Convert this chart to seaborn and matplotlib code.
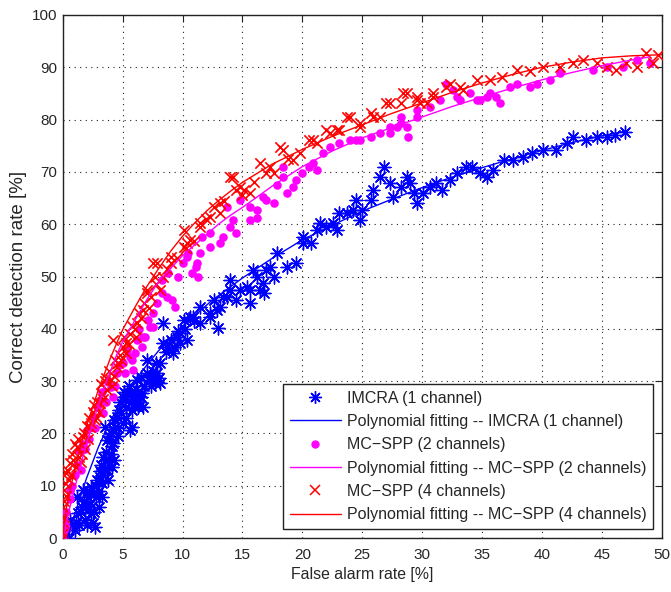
import numpy as np
import pandas as pd
import matplotlib
matplotlib.use("Agg")
import matplotlib.pyplot as plt
import seaborn as sns
from matplotlib.lines import Line2D

# ---------------- data ----------------
imcra_x = [0.5, 0.6, 1.0, 1.2, 1.3, 1.6, 1.7, 1.9, 2.1, 2.2, 2.4, 2.4, 2.5, 2.7, 2.8, 2.9, 3.0, 3.1, 3.2, 3.3,
           3.4, 3.5, 3.5, 3.7, 3.8, 3.8, 4.0, 4.1, 4.1, 4.2, 4.3, 4.4, 4.5, 4.6, 4.9, 5.0, 5.0, 5.2, 5.3, 5.5,
           5.6, 5.6, 5.8, 5.8, 5.9, 6.0, 6.2, 6.3, 6.5, 6.5, 6.6, 6.7, 7.0, 7.2, 7.3, 7.5, 7.7, 7.9, 8.1, 8.1,
           8.4, 8.4, 8.6, 8.7, 9.0, 9.2, 9.5, 9.8, 9.8, 10.1, 10.4, 10.6, 10.9, 11.5, 11.5, 12.3, 12.3, 12.6, 12.9, 13.0,
           13.1, 13.4, 13.7, 14.0, 14.0, 14.5, 14.8, 15.4, 15.6, 15.6, 15.9, 16.2, 16.5, 16.7, 16.8, 17.0, 17.3, 17.6, 17.9, 18.7,
           19.5, 20.1, 20.1, 20.7, 21.2, 21.5, 22.0, 22.6, 22.9, 23.1, 23.7, 24.2, 24.5, 24.8, 25.0, 25.7, 25.9, 26.5, 26.8, 27.3,
           27.6, 28.2, 28.7, 29.0, 29.3, 29.6, 30.1, 30.7, 31.2, 31.7, 32.3, 32.9, 33.7, 34.2, 34.8, 35.4, 35.9, 36.8, 37.6, 38.4,
           39.2, 40.1, 41.2, 42.1, 42.6, 43.7, 44.6, 45.4, 46.1, 46.9,
           0.8, 1.1, 1.4, 1.5, 1.8, 2.0, 2.2, 2.3, 2.6, 2.6, 2.8, 3.0, 3.1, 3.3, 3.4, 3.6, 3.7, 3.9, 4.0, 4.2,
           4.3, 4.6, 4.7, 4.8, 5.1, 5.3, 5.4, 5.7, 6.1, 6.4, 6.8, 7.0, 7.4, 7.6, 8.0, 7.8, 9.3, 9.6, 10.2, 11.0]
imcra_y = [0.0, 3.4, 1.5, 7.9, 4.8, 6.0, 9.2, 3.4, 7.9, 5.5, 4.8, 9.8, 2.9, 2.1, 7.9, 11.1, 6.0, 11.7, 14.0, 7.9,
           15.5, 13.0, 21.2, 18.7, 14.9, 11.1, 20.0, 17.5, 13.6, 18.1, 15.0, 21.2, 23.1, 19.5, 23.9, 27.0, 22.0, 26.4, 25.1, 29.0,
           27.7, 20.6, 24.5, 21.2, 26.4, 27.0, 30.2, 25.0, 27.0, 30.8, 27.7, 25.1, 34.0, 30.2, 30.8, 32.0, 29.6, 31.5, 29.6, 33.5,
           41.1, 37.3, 35.5, 36.5, 37.9, 35.4, 38.5, 37.3, 39.2, 41.7, 37.9, 42.3, 42.3, 44.2, 41.1, 42.3, 43.0, 45.5, 43.6, 40.2,
           44.2, 46.1, 46.1, 47.4, 49.3, 45.5, 47.4, 48.0, 44.9, 47.4, 51.2, 49.9, 47.4, 48.8, 46.8, 51.2, 51.8, 49.9, 54.5, 51.8,
           52.6, 57.6, 56.4, 56.4, 58.9, 60.2, 59.5, 60.2, 58.9, 62.1, 62.1, 62.7, 64.6, 60.8, 62.7, 64.6, 66.5, 69.0, 71.0, 67.9,
           65.2, 67.1, 69.0, 67.9, 66.0, 64.0, 66.0, 67.1, 67.9, 66.5, 68.5, 69.8, 71.0, 71.0, 69.8, 69.0, 70.4, 72.3, 72.3, 72.9,
           73.6, 74.2, 74.2, 75.5, 76.7, 76.1, 76.7, 76.7, 77.1, 77.6,
           2.0, 3.0, 2.5, 5.0, 7.0, 2.5, 9.0, 6.5, 5.0, 8.5, 10.0, 9.0, 12.8, 10.5, 12.0, 16.5, 13.0, 19.5, 16.0, 20.8,
           22.5, 21.0, 24.5, 26.0, 28.0, 23.0, 27.5, 26.0, 28.5, 26.0, 29.0, 31.5, 29.0, 31.0, 30.5, 33.5, 36.5, 39.5, 40.0, 41.5]

spp2_x = [0.1, 0.2, 0.3, 0.6, 0.6, 1.0, 1.4, 1.7, 2.0, 2.5, 3.1, 3.4, 4.0, 4.2, 4.5, 5.0, 5.6, 5.8, 5.9, 6.0,
          6.2, 6.7, 6.9, 7.1, 7.3, 7.5, 7.5, 7.9, 8.3, 8.3, 8.7, 8.8, 9.1, 9.4, 9.6, 10.0, 10.4, 10.5, 10.8, 11.1,
          11.2, 11.3, 11.5, 11.6, 12.3, 12.3, 13.1, 13.4, 13.7, 14.0, 14.2, 14.5, 14.8, 15.6, 15.6, 16.2, 16.2, 16.7, 17.0, 17.6,
          17.9, 18.4, 18.4, 18.7, 19.2, 19.5, 20.0, 20.6, 20.9, 21.2, 21.7, 22.3, 23.1, 24.0, 24.5, 24.8, 25.7, 26.5, 27.3, 27.3,
          27.9, 28.2, 28.2, 28.7, 28.8, 29.6, 29.6, 30.7, 31.5, 32.0, 32.6, 32.9, 33.2, 34.0, 34.6, 34.8, 35.4, 35.7, 36.2, 36.5,
          37.3, 37.9, 39.0, 39.6, 40.7, 41.5, 44.3, 45.4, 46.8, 47.9, 49.0,
          0.4, 0.8, 1.2, 1.5, 1.9, 2.2, 2.7, 2.9, 3.3, 3.6, 3.8, 4.4, 4.7, 5.2, 5.4, 6.4, 6.6]
spp2_y = [0.5, 3.0, 5.0, 7.5, 9.2, 12.0, 16.8, 18.0, 20.6, 23.1, 26.4, 23.9, 28.9, 27.0, 31.5, 33.5, 34.6, 34.0, 32.1, 35.4,
          37.9, 38.4, 38.4, 41.7, 40.3, 43.0, 40.3, 44.9, 46.8, 49.3, 46.0, 50.7, 45.5, 44.2, 49.9, 52.6, 53.7, 54.5, 50.7, 51.8,
          52.6, 49.9, 54.5, 57.6, 55.6, 58.3, 56.4, 57.6, 63.3, 59.5, 60.8, 58.3, 64.6, 60.8, 63.3, 61.2, 62.7, 65.2, 64.6, 64.0,
          67.5, 69.0, 71.0, 66.0, 67.1, 68.5, 69.8, 71.0, 71.7, 70.4, 73.6, 74.8, 75.5, 76.1, 76.1, 76.1, 76.7, 77.4, 77.4, 78.6,
          78.6, 79.3, 80.5, 78.6, 76.7, 80.5, 81.8, 82.4, 83.7, 86.9, 85.7, 84.3, 83.7, 85.0, 83.7, 83.7, 84.3, 85.0, 84.3, 83.2,
          86.3, 86.9, 86.3, 86.9, 87.6, 88.9, 89.5, 90.1, 90.1, 91.4, 90.8,
          2.0, 10.0, 14.0, 13.0, 17.0, 19.0, 21.0, 25.0, 28.0, 26.0, 30.0, 29.0, 33.0, 31.5, 36.0, 40.0, 36.5]

spp4_x = [0.0, 0.05, 0.05, 0.1, 0.2, 0.3, 0.5, 0.6, 0.8, 1.0, 1.2, 1.4, 1.5, 1.7, 1.9, 2.0, 2.3, 2.5, 2.8, 2.9,
          3.1, 3.3, 3.5, 3.7, 4.0, 4.2, 4.3, 4.5, 4.8, 5.0, 5.3, 5.3, 5.6, 6.0, 6.2, 6.5, 6.7, 7.0, 7.0, 7.5,
          7.8, 7.9, 8.1, 8.4, 8.7, 9.0, 9.0, 9.5, 10.1, 10.1, 10.3, 10.4, 10.6, 11.0, 11.5, 11.5, 12.0, 12.3, 12.6, 13.1,
          13.1, 13.5, 14.0, 14.2, 14.5, 14.8, 15.0, 15.1, 15.6, 16.0, 16.5, 17.0, 17.3, 17.6, 18.1, 18.4, 18.8, 19.2, 19.8, 20.6,
          20.9, 21.2, 22.0, 22.3, 22.9, 23.1, 23.7, 24.0, 24.8, 24.8, 25.7, 25.9, 26.5, 27.0, 27.3, 28.2, 28.4, 28.7, 29.6, 29.6,
          29.8, 30.4, 30.9, 30.9, 32.0, 32.3, 33.2, 33.4, 34.6, 35.7, 36.7, 37.9, 39.0, 40.1, 41.5, 42.6, 43.4, 44.6, 45.4, 46.2,
          47.0, 47.9, 48.7, 49.3, 49.7,
          0.05, 0.1, 0.15, 0.3, 0.4, 0.7, 0.9, 1.1, 1.3, 1.6, 1.8, 2.1, 2.2, 2.4, 2.6, 2.7, 3.0, 3.2, 3.4, 3.6,
          3.9, 4.1, 4.4, 4.6, 4.9, 5.1, 5.5, 5.8, 6.1, 6.4, 6.8, 7.2, 7.4, 7.7]
spp4_y = [0.0, 3.0, 6.0, 9.2, 10.5, 12.4, 11.0, 14.3, 16.0, 18.0, 17.4, 15.5, 14.5, 19.3, 17.0, 21.5, 21.2, 24.0, 23.1, 26.0,
          25.8, 27.5, 30.0, 28.3, 30.2, 37.9, 31.0, 32.7, 35.0, 36.5, 37.3, 35.4, 39.0, 40.0, 41.1, 42.0, 43.6, 46.8, 47.4, 52.5,
          48.5, 52.6, 47.4, 50.0, 51.5, 52.6, 53.7, 53.5, 58.9, 55.6, 55.5, 56.4, 57.0, 56.8, 60.2, 59.5, 61.0, 61.4, 63.3, 62.1,
          64.0, 64.5, 69.0, 69.0, 66.5, 67.2, 65.5, 66.5, 65.9, 68.0, 71.7, 69.8, 71.0, 69.8, 74.8, 74.2, 72.5, 72.3, 73.6, 76.1,
          76.1, 75.5, 78.0, 77.4, 78.0, 78.0, 80.5, 80.5, 78.6, 79.3, 81.2, 80.5, 80.5, 83.2, 83.2, 83.2, 85.0, 85.0, 84.3, 83.7,
          83.2, 83.2, 85.0, 84.4, 86.3, 86.9, 86.3, 85.7, 87.6, 87.6, 88.2, 89.5, 89.2, 90.1, 90.1, 90.8, 91.4, 90.8, 90.1, 89.5,
          90.8, 90.1, 92.7, 90.8, 92.4,
          1.0, 4.0, 7.0, 8.0, 13.0, 12.0, 15.0, 13.5, 19.0, 16.0, 20.0, 19.0, 23.0, 22.0, 25.5, 22.5, 24.0, 29.5, 26.5, 30.5,
          32.0, 29.0, 34.0, 33.5, 34.0, 38.5, 37.0, 40.5, 38.5, 43.0, 45.0, 44.0, 46.0, 50.0]

# polynomial fitting curves
fit1_x = [0.4, 1, 1.5, 2, 2.5, 3, 3.5, 4, 5, 6, 7, 8, 9, 10, 12.5, 15, 17.5, 20, 22.5, 25, 27.5, 30, 32.5, 35,
          37.5, 40, 42.5, 45, 47]
fit1_y = [0, 4.5, 8, 11.5, 14.5, 17.5, 20, 22.5, 26.5, 30, 33, 35.8, 38.3, 40.5, 45.5, 49.7, 53.5, 57, 59.8, 62.5,
          64.8, 67, 69, 70.8, 72.5, 74.1, 75.6, 76.9, 77.8]
fit2_x = [0, 0.5, 1, 1.5, 2, 2.5, 3, 3.5, 4, 4.5, 5, 6, 7, 8, 9, 10, 11, 12, 13, 14, 15, 17.5, 20, 22.5, 25,
          27.5, 30, 32.5, 35, 37.5, 40, 42.5, 45, 47.5, 49]
fit2_y = [0, 5, 9.5, 14, 18, 22, 25.5, 29, 32, 35, 37.5, 41.5, 45.5, 49, 51.5, 54, 56, 58, 60, 61.7, 63.2, 67.3, 71,
          74, 76.5, 78.5, 80.5, 82.5, 84.3, 86, 87.6, 89, 90.3, 91.4, 92]
fit4_x = [0, 0.25, 0.5, 1, 1.5, 2, 2.5, 3, 3.5, 4, 4.5, 5, 6, 7, 8, 9, 10, 11, 12, 13, 14, 15, 17.5, 20, 22.5,
          25, 27.5, 30, 32.5, 35, 37.5, 40, 42.5, 45, 47.5, 50]
fit4_y = [0, 5, 8, 13, 17.5, 21.5, 25, 28.5, 31.5, 34.5, 37.2, 39.8, 44, 48, 51.5, 54.8, 57.7, 60.2, 62.5, 64.5,
          66.3, 68, 71.5, 74.3, 76.8, 79, 81.2, 83.2, 85.2, 87, 88.6, 90, 91, 91.8, 92.2, 92.4]

labels = ["IMCRA (1 channel)",
          "Polynomial fitting -- IMCRA (1 channel)",
          "MC\u2212SPP (2 channels)",
          "Polynomial fitting -- MC\u2212SPP (2 channels)",
          "MC\u2212SPP (4 channels)",
          "Polynomial fitting -- MC\u2212SPP (4 channels)"]
x_ticks = [0, 5, 10, 15, 20, 25, 30, 35, 40, 45, 50]
y_ticks = [0, 10, 20, 30, 40, 50, 60, 70, 80, 90, 100]

BLUE, MAG, RED = "#0000FF", "#FF00FF", "#FF0000"

# ---------------- plot ----------------
sns.set_style("white")
plt.rcParams["font.family"] = ["Liberation Sans", "DejaVu Sans"]

fig = plt.figure(figsize=(6.71, 5.92), dpi=100)
ax = fig.add_axes([62.7 / 671, 54 / 592, 599 / 671, 523 / 592])

asterisk = (8, 2, 0)

d1 = pd.DataFrame({"x": imcra_x, "y": imcra_y})
d2 = pd.DataFrame({"x": spp2_x, "y": spp2_y})
d4 = pd.DataFrame({"x": spp4_x, "y": spp4_y})
f1 = pd.DataFrame({"x": fit1_x, "y": fit1_y})
f2 = pd.DataFrame({"x": fit2_x, "y": fit2_y})
f4 = pd.DataFrame({"x": fit4_x, "y": fit4_y})

sns.scatterplot(data=d1, x="x", y="y", ax=ax, marker=asterisk, s=85,
                color=BLUE, edgecolor=BLUE, linewidth=1.0, zorder=3)
sns.lineplot(data=f1, x="x", y="y", ax=ax, color=BLUE, lw=1.0, sort=False,
             estimator=None, zorder=4)
sns.scatterplot(data=d2, x="x", y="y", ax=ax, marker="o", s=38,
                color=MAG, edgecolor=MAG, linewidth=0, zorder=3)
sns.lineplot(data=f2, x="x", y="y", ax=ax, color=MAG, lw=1.0, sort=False,
             estimator=None, zorder=4)
sns.scatterplot(data=d4, x="x", y="y", ax=ax, marker="x", s=55,
                color=RED, linewidth=1.2, zorder=3)
sns.lineplot(data=f4, x="x", y="y", ax=ax, color=RED, lw=1.0, sort=False,
             estimator=None, zorder=4)

ax.set_xlim(0, 50)
ax.set_ylim(0, 100)
ax.set_xticks(x_ticks)
ax.set_yticks(y_ticks)
ax.set_xticklabels([str(t) for t in x_ticks])
ax.set_yticklabels([str(t) for t in y_ticks])
ax.tick_params(direction="in", length=5, width=0.8, color="#222222",
               labelsize=11, top=True, right=True, pad=4)
ax.tick_params(axis="x", pad=7)
ax.grid(True, linestyle=(0, (1, 4)), color="#222222", linewidth=0.8)
for sp in ax.spines.values():
    sp.set_color("#222222")
    sp.set_linewidth(1.0)

ax.set_xlabel("False alarm rate [%]", fontsize=11.4, labelpad=4)
ax.set_ylabel("Correct detection rate [%]", fontsize=13.5, labelpad=3)

handles = [
    Line2D([], [], linestyle="none", marker=asterisk, markersize=9, color=BLUE, markeredgewidth=1.0),
    Line2D([], [], color=BLUE, lw=1.0),
    Line2D([], [], linestyle="none", marker="o", markersize=5, color=MAG),
    Line2D([], [], color=MAG, lw=1.0),
    Line2D([], [], linestyle="none", marker="x", markersize=7, color=RED, markeredgewidth=1.1),
    Line2D([], [], color=RED, lw=1.0),
]
leg = ax.legend(handles, labels, loc="lower right", bbox_to_anchor=(0.9855, 0.0172),
                borderaxespad=0, fontsize=11.5, frameon=True, fancybox=False,
                handlelength=3.2, handletextpad=0.35, labelspacing=0.52, borderpad=0.42)
leg.get_frame().set_edgecolor("#222222")
leg.get_frame().set_linewidth(1.0)
leg.get_frame().set_alpha(1.0)

fig.savefig("out.png", dpi=100)
